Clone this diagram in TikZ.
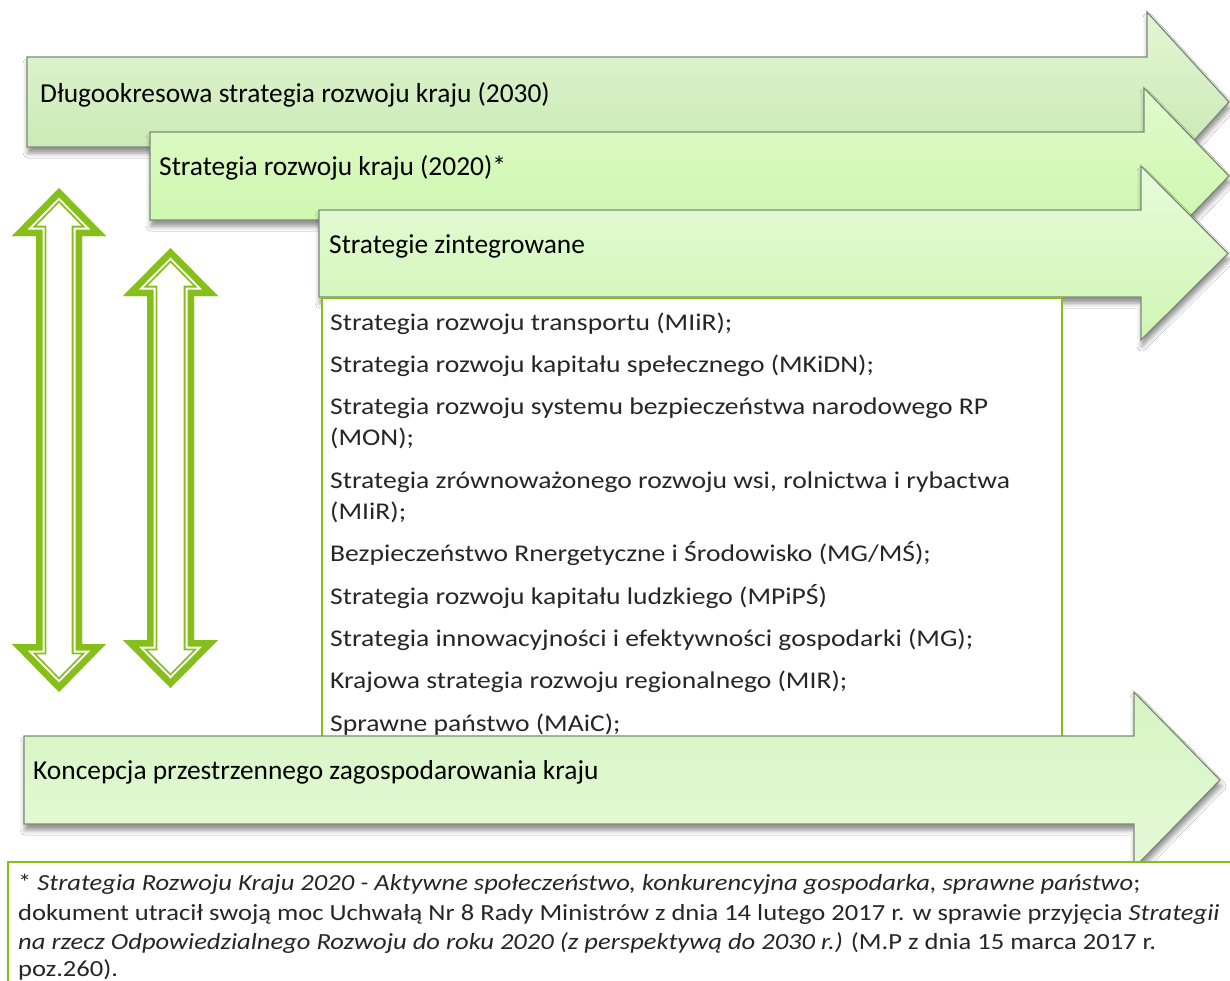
\documentclass[tikz,border=0pt]{standalone}
\usepackage{fontspec}
\setmainfont{Carlito}
\newfontfamily\lightfont{Carlito}[FakeStretch=1.15]
\usetikzlibrary{shadows.blur}

\definecolor{leaf}{HTML}{86BF1A}
\definecolor{arrowline}{HTML}{7C8B79}
\definecolor{aOneTop}{HTML}{E2F6D4}
\definecolor{aOneBot}{HTML}{C4E6AC}
\definecolor{aTwoTop}{HTML}{E0FACB}
\definecolor{aTwoBot}{HTML}{C9F7A6}
\definecolor{aThreeTop}{HTML}{E7FBDA}
\definecolor{aThreeBot}{HTML}{CFF6B3}
\definecolor{aFourTop}{HTML}{D6F5C2}
\definecolor{aFourBot}{HTML}{E5F9D7}

% block arrow pointing right: #1 style, #2 left x, #3 top y, #4 bottom y,
% #5 x where the head starts, #6 head top y, #7 head bottom y, #8 tip x
\newcommand\flowarrow[8]{%
  \path[#1] (#2,#3) -- (#5,#3) -- (#5,#6) -- (#8,{(#3+#4)/2}) -- (#5,#7)
    -- (#5,#4) -- (#2,#4) -- cycle;}

% outlined two-headed vertical arrow: #1 centre x, #2 half head width,
% #3 half shaft width, #4 top tip y, #5 top head base y,
% #6 bottom head base y, #7 bottom tip y
\newcommand\dblarrow[7]{%
  \begin{scope}
    \clip (#1,#4) -- (#1+#2,#5) -- (#1+#3,#5) -- (#1+#3,#6) -- (#1+#2,#6)
      -- (#1,#7) -- (#1-#2,#6) -- (#1-#3,#6) -- (#1-#3,#5) -- (#1-#2,#5) -- cycle;
    \foreach \w/\c in {20.6/leaf, 17/white, 13/leaf}{
      \draw[\c, line width=\w pt, line join=miter]
        (#1,#4) -- (#1+#2,#5) -- (#1+#3,#5) -- (#1+#3,#6) -- (#1+#2,#6)
        -- (#1,#7) -- (#1-#2,#6) -- (#1-#3,#6) -- (#1-#3,#5) -- (#1-#2,#5) -- cycle;
    }
  \end{scope}}

\begin{document}
\begin{tikzpicture}[x=1pt,y=-1pt,
  flow/.style={draw=arrowline, line width=1.3pt, line join=miter,
    blur shadow={shadow xshift=1pt, shadow yshift=-6pt,
      shadow blur radius=5pt, shadow opacity=45}},
  heading/.style={anchor=base west, inner sep=0pt,
    font=\fontsize{27.4}{32}\selectfont},
  listline/.style={anchor=base west, inner sep=0pt,
    font=\lightfont\fontsize{24}{30}\selectfont, text=black!85},
  noteline/.style={anchor=base west, inner sep=0pt,
    font=\lightfont\fontsize{23.1}{28}\selectfont, text=black!85},
  greenbox/.style={draw=leaf, line width=2pt, fill=white}]

\useasboundingbox (0,0) rectangle (1230,980);
\fill[white] (0,0) rectangle (1230,980);
\clip (0,0) rectangle (1230,980);

% long-term and medium-term strategy arrows
\flowarrow{flow, top color=aOneTop, bottom color=aOneBot}{27}{57}{147}{1147}{12}{192}{1229}
\node[heading] (longterm) at (40,102) {Długookresowa strategia rozwoju kraju (2030)};

\flowarrow{flow, top color=aTwoTop, bottom color=aTwoBot}{150}{132}{220}{1144}{88}{264}{1229}
\node[heading] (srk) at (159,175) {Strategia rozwoju kraju (2020)*};

\flowarrow{flow, top color=aThreeTop, bottom color=aThreeBot}{319}{210}{297}{1141}{166}{340}{1228}
\node[heading] (integrated) at (329,253) {Strategie zintegrowane};

% list of the integrated strategies
\path[greenbox] (322,298) rectangle (1062,770);
\node[listline] (s1)  at (330,330)   {Strategia rozwoju transportu (MIiR);};
\node[listline] (s2)  at (330,372.4) {Strategia rozwoju kapitału spełecznego (MKiDN);};
\node[listline] (s3a) at (330,414.8) {Strategia rozwoju systemu bezpieczeństwa narodowego RP};
\node[listline] (s3b) at (330,445.8) {(MON);};
\node[listline] (s4a) at (330,488.2) {Strategia zrównoważonego rozwoju wsi, rolnictwa i rybactwa};
\node[listline] (s4b) at (330,519.2) {(MIiR);};
\node[listline] (s5)  at (330,561.6) {Bezpieczeństwo Rnergetyczne i Środowisko (MG/MŚ);};
\node[listline] (s6)  at (330,604)   {Strategia rozwoju kapitału ludzkiego (MPiPŚ)};
\node[listline] (s7)  at (330,646.4) {Strategia innowacyjności i efektywności gospodarki (MG);};
\node[listline] (s8)  at (330,688.8) {Krajowa strategia rozwoju regionalnego (MIR);};
\node[listline] (s9)  at (330,731.2) {Sprawne państwo (MAiC);};

% spatial development concept
\flowarrow{flow, top color=aFourTop, bottom color=aFourBot}{24}{736}{824}{1134}{692}{868}{1220}
\node[heading] (kpzk) at (33,779) {Koncepcja przestrzennego zagospodarowania kraju};

% two-headed arrows on the left
\dblarrow{59}{47}{23}{188}{236}{644}{692}
\dblarrow{170.5}{47.5}{23.5}{248}{296}{640}{688}

% footnote
\path[greenbox] (8,862) rectangle (1245,995);
\node[noteline] (n1) at (18,890) {* \itshape Strategia Rozwoju Kraju 2020 - Aktywne społeczeństwo, konkurencyjna gospodarka, sprawne państwo\upshape;};
\node[noteline] (n2) at (18,920) {dokument utracił swoją moc Uchwałą Nr 8 Rady Ministrów z dnia 14 lutego 2017 r. w sprawie przyjęcia \itshape Strategii};
\node[noteline] (n3) at (18,949) {\itshape na rzecz Odpowiedzialnego Rozwoju do roku 2020 (z perspektywą do 2030 r.)\upshape{} (M.P z dnia 15 marca 2017 r.};
\node[noteline] (n4) at (18,976) {poz.260).};
\end{tikzpicture}
\end{document}
